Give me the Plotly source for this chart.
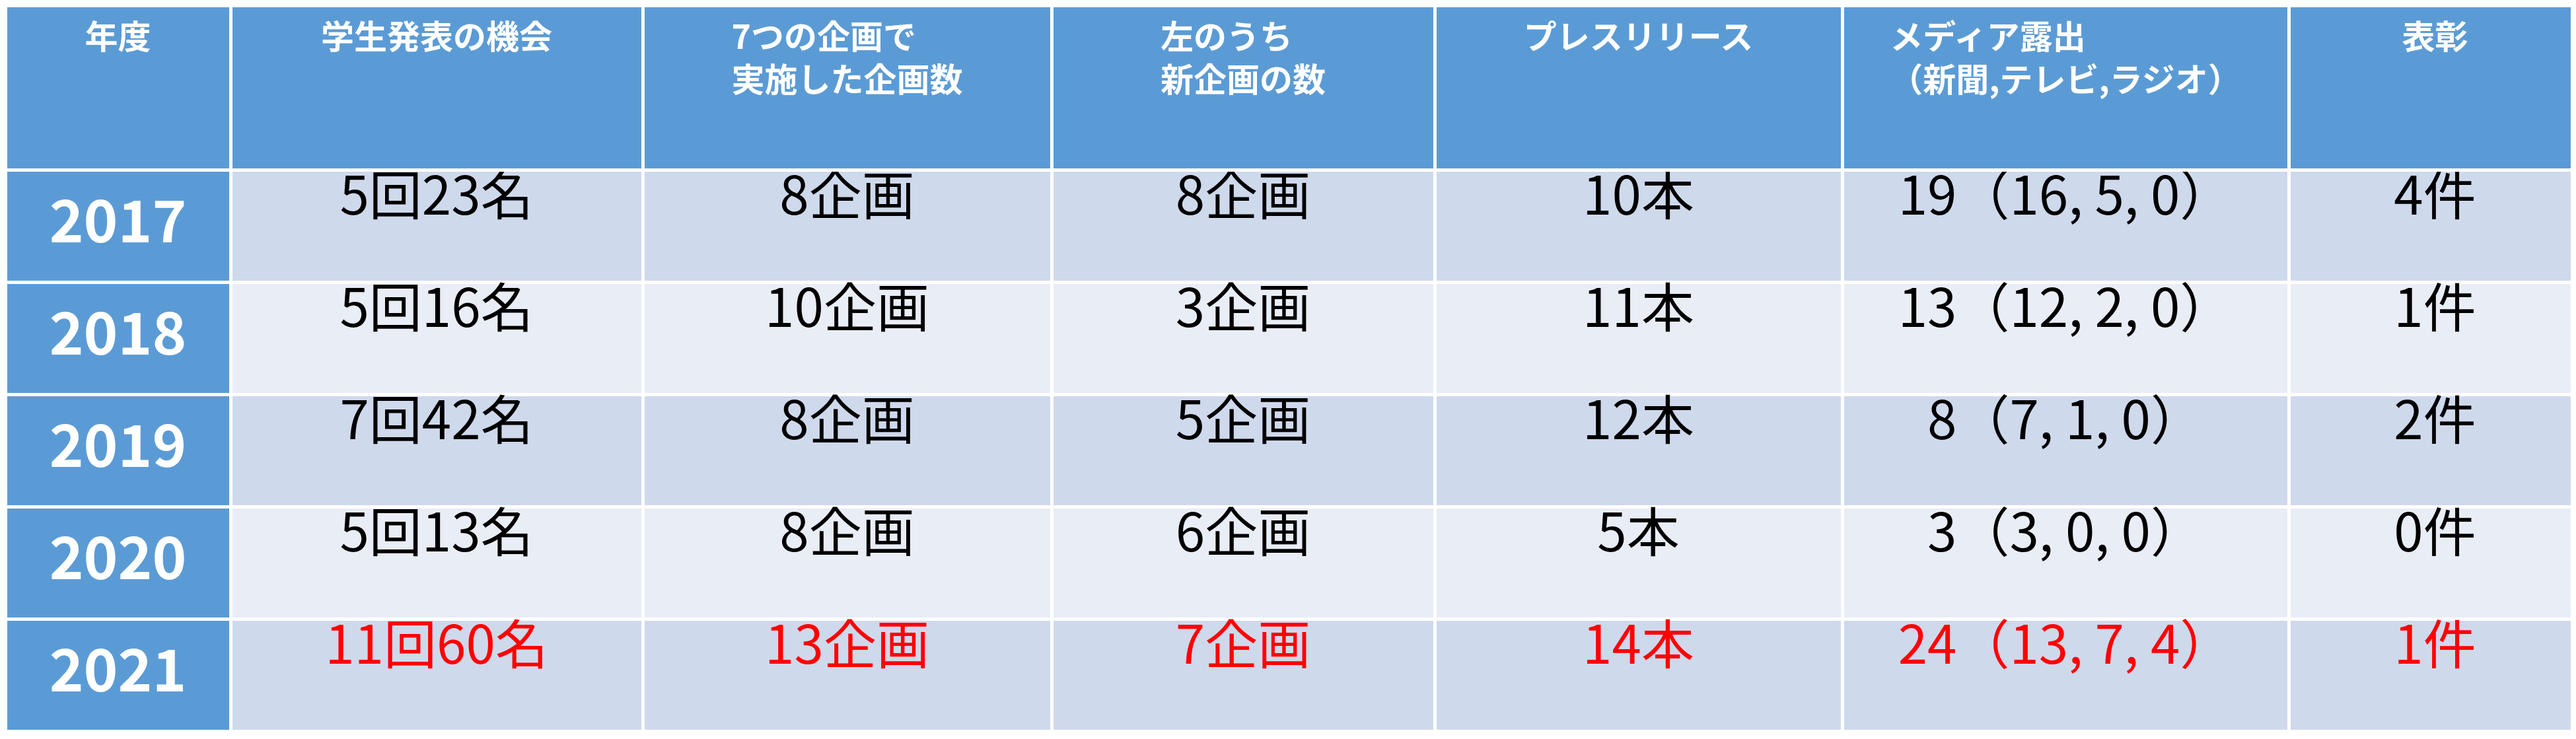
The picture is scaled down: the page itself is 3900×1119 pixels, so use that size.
import plotly.graph_objects as go

headers = ["年度", "学生発表の機会", "7つの企画で<br>実施した企画数", "左のうち<br>新企画の数",
           "プレスリリース", "メディア露出<br>（新聞,テレビ,ラジオ）", "表彰"]
years = ["2017", "2018", "2019", "2020", "2021"]
presentations = ["5回23名", "5回16名", "7回42名", "5回13名", "11回60名"]
projects = ["8企画", "10企画", "8企画", "8企画", "13企画"]
new_projects = ["8企画", "3企画", "5企画", "6企画", "7企画"]
press = ["10本", "11本", "12本", "5本", "14本"]
media = ["19（16, 5, 0）", "13（12, 2, 0）", "8（7, 1, 0）", "3（3, 0, 0）", "24（13, 7, 4）"]
awards = ["4件", "1件", "2件", "0件", "1件"]

blue = "#5B9BD5"
row_fill = ["#CFD9EC", "#E9EDF5", "#CFD9EC", "#E9EDF5", "#CFD9EC"]
row_font = ["black", "black", "black", "black", "#FF0000"]

columns = [["<b>%s</b>" % y for y in years], presentations, projects, new_projects, press, media, awards]
fills = [[blue] * 5] + [row_fill] * 6
font_colors = [["white"] * 5] + [row_font] * 6
font_sizes = [88, 80, 80, 80, 80, 80, 80]

fig = go.Figure(go.Table(
    columnwidth=[341, 624, 619, 580, 617, 676, 443],
    header=dict(
        values=["<b>%s</b>" % h for h in headers],
        fill_color=blue,
        font=dict(color="white", size=50, family="Noto Sans CJK JP"),
        align="center",
        height=249,
        line=dict(color="white", width=5),
    ),
    cells=dict(
        values=columns,
        fill_color=fills,
        font=dict(color=font_colors, size=font_sizes, family="Noto Sans CJK JP"),
        align="center",
        height=170,
        line=dict(color="white", width=5),
    ),
))

fig.update_layout(
    width=3900, height=1119,
    margin=dict(l=0, r=0, t=0, b=0),
    paper_bgcolor="white",
)
fig.write_html("out.html")
